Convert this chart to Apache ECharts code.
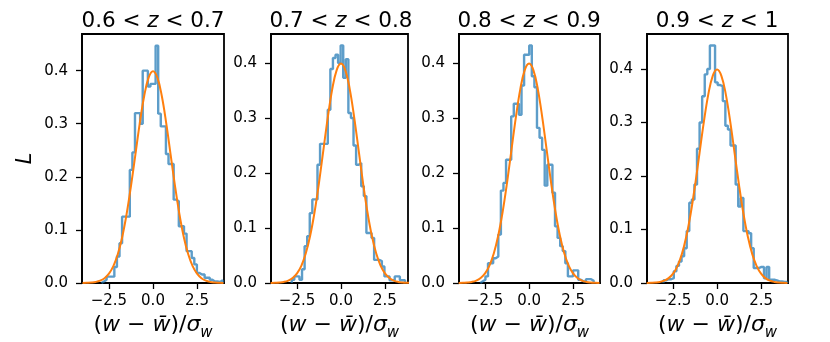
<!DOCTYPE html>
<html>
<head>
<meta charset="utf-8">
<script src="https://cdn.jsdelivr.net/npm/echarts@6/dist/echarts.min.js"></script>
<style>
html, body { margin: 0; background: #fff; }
#main { width: 830px; height: 342px; }
</style>
</head>
<body>
<div id="main"></div>
<script>
// redshift bins shown above each panel
var zLow = ['0.6', '0.7', '0.8', '0.9'];
var zHigh = ['0.7', '0.8', '0.9', '1'];

var xTicks = [-2.5, 0, 2.5];
var yTicks = [0, 0.1, 0.2, 0.3, 0.4];

// histogram bins: left edge of first bin + common width
var binWidth = 0.1464;
var histStart = [-2.926, -2.801, -2.771, -3.042];

var hist1 = [0.003, 0.006, 0.012, 0.012, 0.012, 0.03, 0.05, 0.075, 0.125, 0.125,
	0.125, 0.213, 0.246, 0.32, 0.32, 0.30, 0.40, 0.40, 0.37, 0.375,
	0.375, 0.447, 0.319, 0.295, 0.295, 0.243, 0.224, 0.224, 0.157, 0.154,
	0.107, 0.107, 0.093, 0.06, 0.06, 0.047, 0.035, 0.019, 0.016, 0.016,
	0.01, 0.01, 0.006, 0.003, 0.003, 0.002, 0.005];
var hist2 = [0.006, 0.012, 0.012, 0.006, 0.025, 0.067, 0.085, 0.127, 0.152, 0.152,
	0.215, 0.253, 0.253, 0.253, 0.315, 0.389, 0.409, 0.415, 0.40, 0.432,
	0.373, 0.407, 0.309, 0.30, 0.25, 0.215, 0.218, 0.176, 0.158, 0.091,
	0.091, 0.082, 0.042, 0.042, 0.040, 0.03, 0.012, 0.012, 0.005, 0.005,
	0.012, 0.012, 0.005, 0.005];
var hist3 = [0.003, 0.006, 0.012, 0.036, 0.036, 0.045, 0.048, 0.088, 0.168, 0.182,
	0.224, 0.224, 0.303, 0.326, 0.326, 0.306, 0.359, 0.415, 0.415, 0.432,
	0.376, 0.356, 0.282, 0.264, 0.242, 0.177, 0.215, 0.215, 0.164, 0.103,
	0.082, 0.067, 0.058, 0.036, 0.012, 0.012, 0.023, 0.023, 0.006, 0.003,
	0.003, 0.007, 0.007, 0.004];
var hist4 = [0.005, 0.007, 0.007, 0.009, 0.022, 0.032, 0.04, 0.05, 0.065, 0.097,
	0.15, 0.156, 0.184, 0.251, 0.30, 0.349, 0.39, 0.40, 0.444, 0.444,
	0.375, 0.37, 0.368, 0.34, 0.294, 0.287, 0.257, 0.257, 0.184, 0.143,
	0.159, 0.097, 0.097, 0.093, 0.065, 0.028, 0.028, 0.03, 0.03, 0.009,
	0.03, 0.006, 0.006, 0.005, 0.003, 0.003, 0.002, 0.002];
var hists = [hist1, hist2, hist3, hist4];

// orange curve (same in all four)
var curveX = [-4, -3.75, -3.5, -3.25, -3, -2.75, -2.5, -2.25, -2, -1.75, -1.5, -1.25, -1, -0.75, -0.5, -0.25,
	0, 0.25, 0.5, 0.75, 1, 1.25, 1.5, 1.75, 2, 2.25, 2.5, 2.75, 3, 3.25, 3.5, 3.75, 4];
var curveY = [0.0001, 0.0004, 0.0009, 0.002, 0.0044, 0.0091, 0.0175, 0.0317, 0.054, 0.0863, 0.1295, 0.1826, 0.242, 0.3011, 0.3521, 0.3867,
	0.3989, 0.3867, 0.3521, 0.3011, 0.242, 0.1826, 0.1295, 0.0863, 0.054, 0.0317, 0.0175, 0.0091, 0.0044, 0.002, 0.0009, 0.0004, 0.0001];

// layout
var gridLeft = [82, 271, 459, 647];
var gridWidth = [142, 137, 141, 141];
var xMin = [-4.03, -3.98, -3.98, -3.98];
var xMax = [4.03, 3.81, 4.03, 4.03];
var yMax = [0.469, 0.4527, 0.4527, 0.4654];
var font = 'DejaVu Sans';

function stepData(i) {
	var h = hists[i];
	var out = [[histStart[i], 0]];
	for (var k = 0; k < h.length; k++) {
		out.push([histStart[i] + k * binWidth, h[k]]);
	}
	var end = histStart[i] + h.length * binWidth;
	out.push([end, h[h.length - 1]]);
	out.push([end, 0]);
	return out;
}

function curveData() {
	var out = [];
	for (var k = 0; k < curveX.length; k++) out.push([curveX[k], curveY[k]]);
	return out;
}

var grids = [], xAxes = [], yAxes = [], series = [], titles = [];

for (var i = 0; i < 4; i++) {
	var zero = gridLeft[i] + gridWidth[i] * (0 - xMin[i]) / (xMax[i] - xMin[i]);
	titles.push({
		text: '{n|' + zLow[i] + ' < }{i|z}{n| < ' + zHigh[i] + '}',
		left: zero,
		top: 10,
		padding: 0,
		textAlign: 'center',
		textStyle: {
			fontWeight: 'normal',
			rich: {
				n: { fontFamily: font, fontSize: 21.5, fontWeight: 'normal', color: '#000' },
				i: { fontFamily: font, fontSize: 21.5, fontWeight: 'normal', fontStyle: 'italic', color: '#000' }
			}
		}
	});
	grids.push({
		left: gridLeft[i], top: 34, width: gridWidth[i], height: 249,
		outerBoundsMode: 'none', containLabel: false,
		show: true, borderColor: '#000', borderWidth: 1.8, backgroundColor: 'transparent'
	});
	xAxes.push({
		gridIndex: i, type: 'value', min: xMin[i], max: xMax[i],
		splitLine: { show: false },
		axisLine: { onZero: false, lineStyle: { color: '#000', width: 1.8 } },
		axisTick: { customValues: xTicks, length: 6, lineStyle: { color: '#000', width: 1.3 } },
		axisLabel: {
			customValues: xTicks, color: '#000', fontFamily: font, fontSize: 15, margin: 11,
			formatter: function (v) { return (v < 0 ? '\u2212' : '') + Math.abs(v).toFixed(1); }
		},
		name: '{n|(}{i|w}{n| \u2212 }{i|w\u0304}{n|)/}{i|\u03c3}{s|w}',
		nameLocation: 'middle',
		nameGap: 25,
		nameTextStyle: {
			rich: {
				n: { fontFamily: font, fontSize: 22, color: '#000', verticalAlign: 'middle' },
				i: { fontFamily: font, fontSize: 22, fontStyle: 'italic', color: '#000', verticalAlign: 'middle' },
				s: { fontFamily: font, fontSize: 15, fontStyle: 'italic', color: '#000', verticalAlign: 'middle', padding: [16, 0, 0, 0] }
			}
		}
	});
	yAxes.push({
		gridIndex: i, type: 'value', min: 0, max: yMax[i],
		splitLine: { show: false },
		axisLine: { onZero: false, lineStyle: { color: '#000', width: 1.8 } },
		axisTick: { customValues: yTicks, length: 6, lineStyle: { color: '#000', width: 1.3 } },
		axisLabel: {
			customValues: yTicks, color: '#000', fontFamily: font, fontSize: 15, margin: 14,
			formatter: function (v) { return v.toFixed(1); }
		},
		name: i === 0 ? 'L' : '',
		nameLocation: 'middle',
		nameGap: 46,
		nameTextStyle: { fontFamily: font, fontSize: 21, fontStyle: 'italic', color: '#000' }
	});
	series.push({
		type: 'line', xAxisIndex: i, yAxisIndex: i,
		data: stepData(i), step: 'end', symbol: 'none',
		lineStyle: { color: '#1f77b4', width: 2.4, opacity: 0.72 },
		z: 2
	});
	series.push({
		type: 'line', xAxisIndex: i, yAxisIndex: i,
		data: curveData(), smooth: 0.4, symbol: 'none',
		lineStyle: { color: '#ff7f0e', width: 2 },
		z: 3
	});
}

var myChart = echarts.init(document.getElementById('main'));
myChart.setOption({
	animation: false,
	backgroundColor: '#fff',
	title: titles,
	grid: grids,
	xAxis: xAxes,
	yAxis: yAxes,
	series: series
});
</script>
</body>
</html>
